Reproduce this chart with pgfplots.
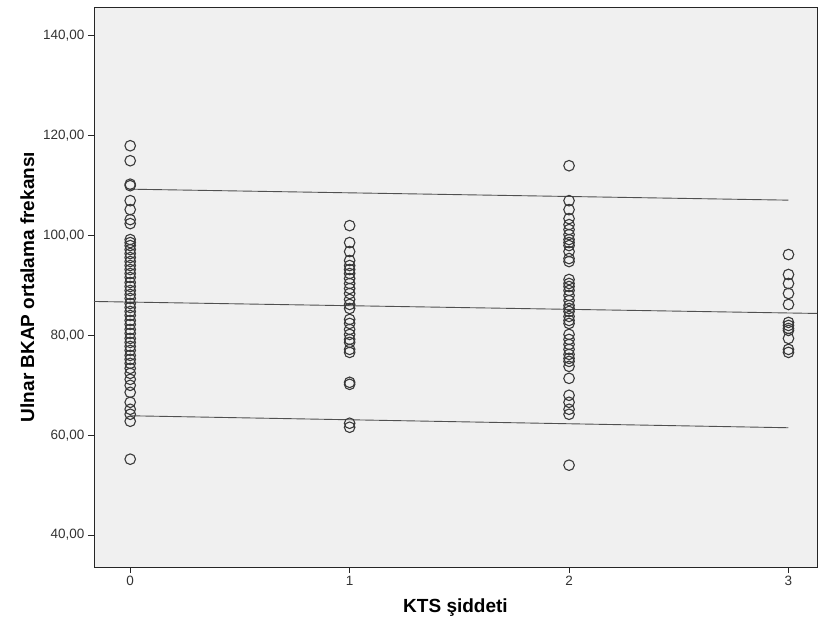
\documentclass[border=0pt]{standalone}
\usepackage{fontspec}
\setmainfont{Liberation Sans}
\usepackage{pgfplots}
\pgfplotsset{compat=1.18}

\definecolor{plotbg}{HTML}{F0F0F0}
\definecolor{markgray}{HTML}{3A3A3A}
\definecolor{linegray}{HTML}{505050}

\begin{document}
\begin{tikzpicture}
\begin{axis}[
    scale only axis,
    width=723pt, height=560pt,
    xmin=-0.165, xmax=3.13,
    ymin=33.6, ymax=145.8,
    axis background/.style={fill=plotbg},
    axis line style={black!85, line width=0.9pt},
    xtick={0,1,2,3},
    ytick={40,60,80,100,120,140},
    tick align=outside,
    xtick pos=bottom, ytick pos=left,
    major tick length=6pt,
    tick style={black!85, line width=0.9pt},
    yticklabel style={/pgf/number format/.cd, fixed, fixed zerofill, precision=2, use comma},
    /pgf/number format/assume math mode=true,
    tick label style={font=\fontsize{13.5}{15}\selectfont, text=black!80},
    xlabel={\bfseries KTS şiddeti},
    ylabel={\bfseries Ulnar BKAP ortalama frekansı},
    label style={font=\fontsize{19}{21}\selectfont},
    xlabel style={yshift=-6pt},
    ylabel style={yshift=2pt},
    clip=true,
]
% observations
\addplot[only marks, mark=o, mark size=5.3pt, mark options={draw=markgray, line width=1.1pt}] coordinates {
    (0,118) (0,115) (0,110.3) (0,110) (0,107) (0,105.2) (0,103.2) (0,102.4)
    (0,99.2) (0,98.6) (0,98) (0,97.2) (0,96.4) (0,95.6) (0,94.8) (0,94) (0,93.2)
    (0,92.4) (0,91.6) (0,90.6) (0,89.8) (0,89) (0,88.2) (0,87.4) (0,86.4) (0,85.6)
    (0,84.8) (0,84) (0,83) (0,82.2) (0,81.2) (0,80.4) (0,79.4) (0,78.6) (0,77.8)
    (0,77) (0,76) (0,75.2) (0,74.4) (0,73.4) (0,72.4) (0,71.2) (0,70) (0,68.6)
    (0,66.6) (0,65.2) (0,64.2) (0,62.8) (0,55.2)
    (1,102) (1,98.6) (1,96.8) (1,95) (1,94) (1,93.2) (1,92.4) (1,91.4) (1,90.4)
    (1,89.4) (1,88.4) (1,87.2) (1,86.2) (1,85.4) (1,83.2) (1,82.4) (1,81.2)
    (1,80.2) (1,79.2) (1,78.6) (1,77.2) (1,76.6) (1,70.6) (1,70.2) (1,62.4)
    (1,61.6)
    (2,114) (2,107) (2,105.2) (2,103.4) (2,102.2) (2,101.2) (2,100.2) (2,99.2)
    (2,98.6) (2,98) (2,96.8) (2,95.4) (2,94.8) (2,91.2) (2,90.4) (2,89.8) (2,89)
    (2,88) (2,87) (2,86) (2,85.4) (2,84.8) (2,83.8) (2,83) (2,82.4) (2,80.2)
    (2,79.2) (2,78.2) (2,77.2) (2,76.2) (2,75.4) (2,74.8) (2,73.8) (2,71.4)
    (2,68) (2,66.6) (2,65.2) (2,64.2) (2,54)
    (3,96.2) (3,92.2) (3,90.4) (3,88.4) (3,86.2) (3,82.6) (3,82) (3,81.4)
    (3,81) (3,79.4) (3,77.2) (3,76.6)
};
% fit line and prediction limits
\addplot[linegray, line width=0.9pt] coordinates {(-0.165,86.8) (3.13,84.4)};
\addplot[linegray, line width=0.9pt] coordinates {(0,109.3) (3,107.1)};
\addplot[linegray, line width=0.9pt] coordinates {(0,63.9) (3,61.5)};
\end{axis}
\path (current axis.south west) ++(-94pt,-59pt) (current axis.north east) ++(1pt,7pt);
\end{tikzpicture}
\end{document}
